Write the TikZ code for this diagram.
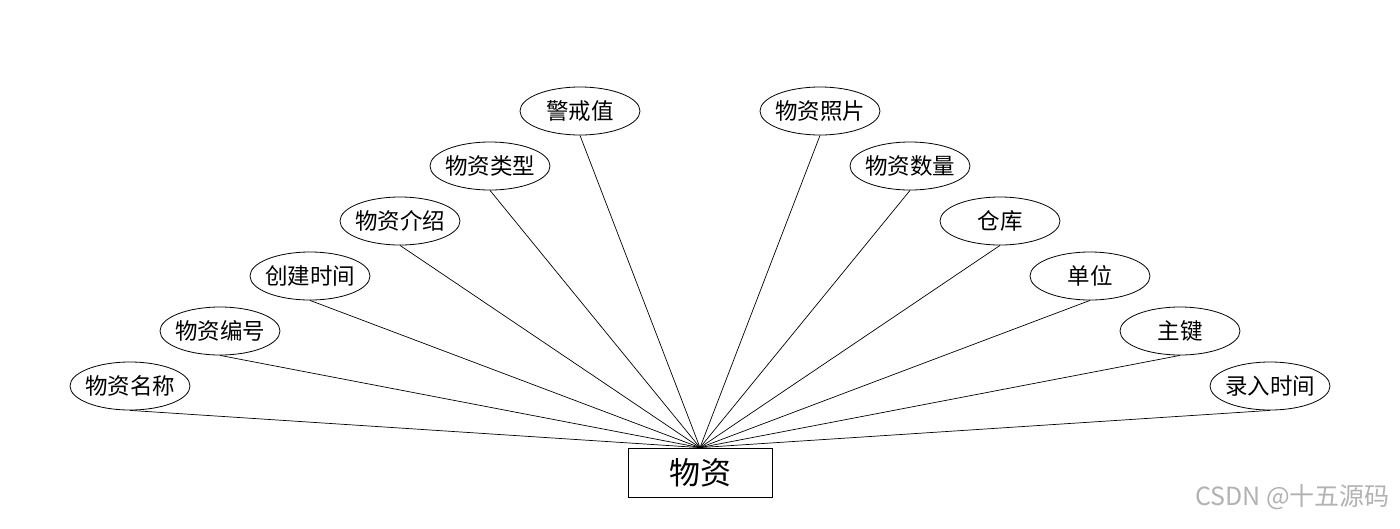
\documentclass[tikz,border=0pt]{standalone}
\usepackage{fontspec}
\usetikzlibrary{shapes.geometric}
\setmainfont{Noto Sans CJK SC}
\newfontfamily\cjk{Noto Sans CJK SC}
\newcommand{\zw}[1]{\makebox[0pt][c]{#1}}
\begin{document}
\begin{tikzpicture}[x=1pt,y=-1pt,
  attr/.style={draw,ellipse,minimum width=120pt,minimum height=48pt,inner sep=0pt,font=\cjk\fontsize{22.5}{22.5}\selectfont,line width=0.8pt},
  ent/.style={draw,rectangle,minimum width=144pt,minimum height=49pt,inner sep=0pt,font=\cjk\fontsize{31}{31}\selectfont,line width=0.8pt},
  link/.style={line width=0.7pt}]
\useasboundingbox (0,0) rectangle (1400,528);
\node[ent] (e) at (700,472.5) {物资};
\node[attr] (a1) at (130,386) {\zw{物资名称}};
\node[attr] (a2) at (220,331) {\zw{物资编号}};
\node[attr] (a3) at (310,276) {\zw{创建时间}};
\node[attr] (a4) at (400,221) {\zw{物资介绍}};
\node[attr] (a5) at (490,166) {\zw{物资类型}};
\node[attr] (a6) at (580,111) {\zw{警戒值}};
\node[attr] (b6) at (820,111) {\zw{物资照片}};
\node[attr] (b5) at (910,166) {\zw{物资数量}};
\node[attr] (b4) at (1000,221) {\zw{仓库}};
\node[attr] (b3) at (1090,276) {\zw{单位}};
\node[attr] (b2) at (1180,331) {\zw{主键}};
\node[attr] (b1) at (1270,386) {\zw{录入时间}};
\foreach \n in {a1,a2,a3,a4,a5,a6,b1,b2,b3,b4,b5,b6}
  \draw[link] (\n.south) -- (e.north);
\node[font=\cjk\fontsize{25}{25}\selectfont,text=black!30,anchor=east,inner sep=0pt] (wm) at (1390,497) {CSDN @十五源码};
\end{tikzpicture}
\end{document}
